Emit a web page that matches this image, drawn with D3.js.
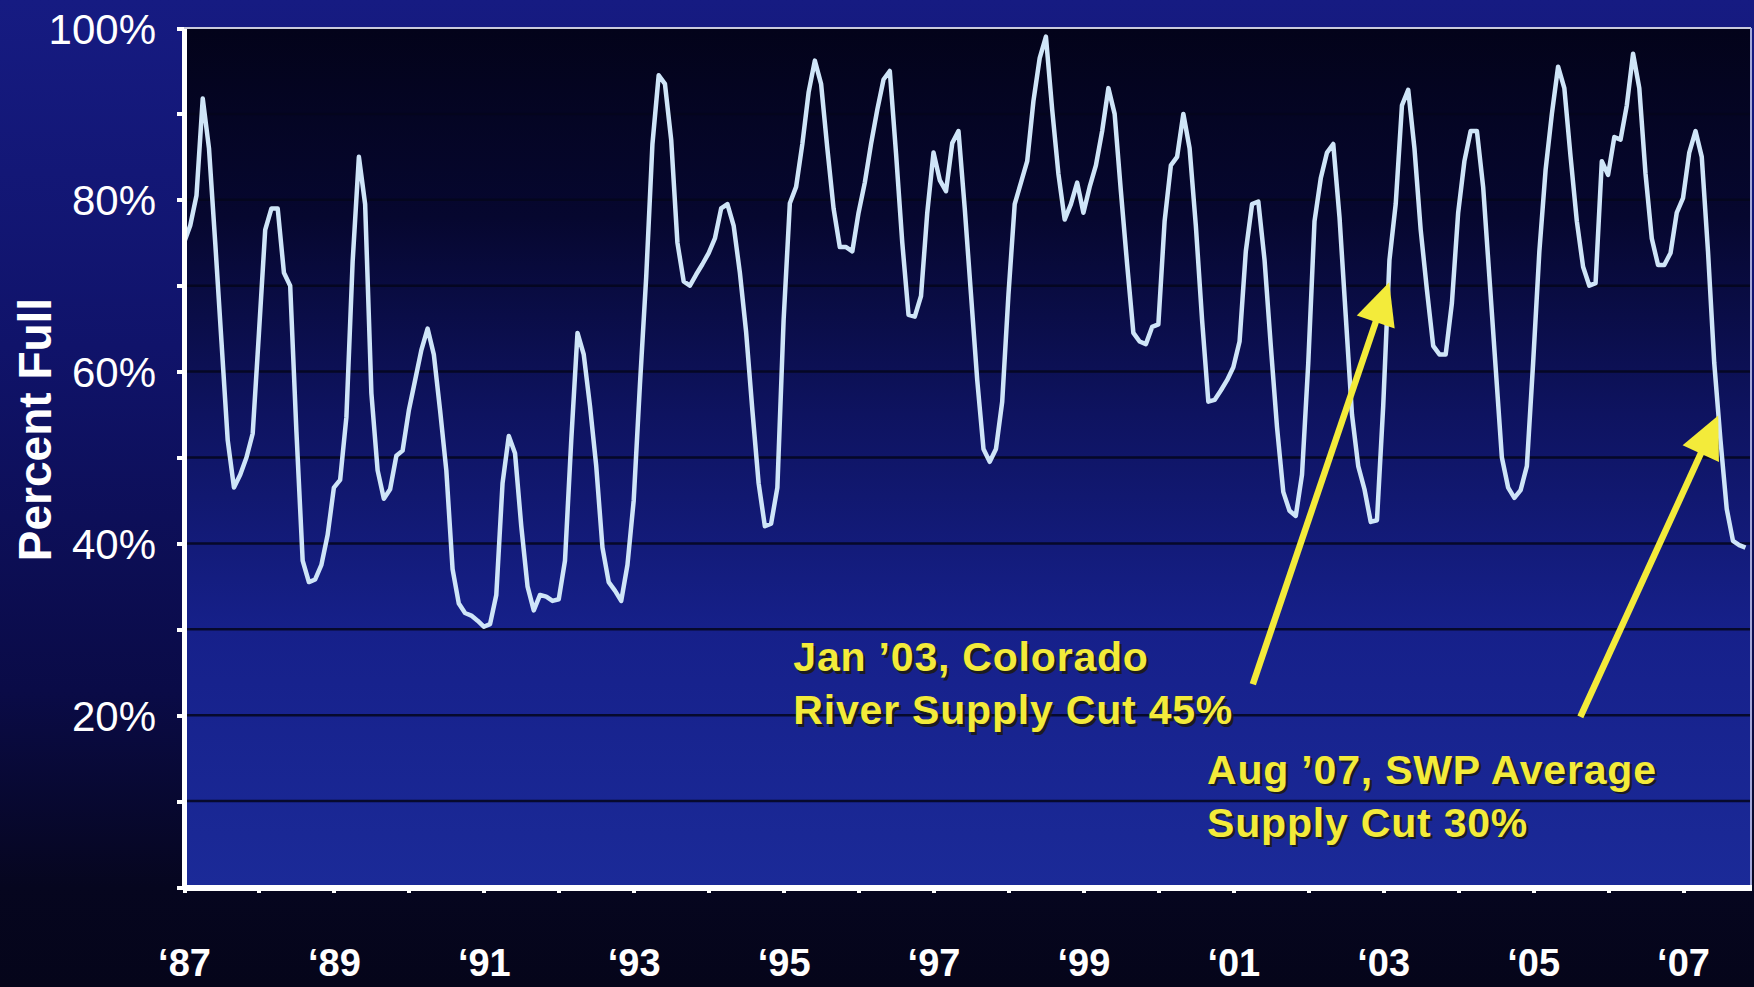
<!DOCTYPE html>
<head>
<meta charset="utf-8">
<script src="https://cdn.jsdelivr.net/npm/d3@7"></script>
<style>
  html, body { margin: 0; padding: 0; background: #06061f; }
  svg { display: block; }
  text { font-family: "Liberation Sans", Arial, sans-serif; }
</style>
</head>
<body>
<svg id="chart" width="1754" height="987"></svg>
<script>
// monthly percent full, Jan 1987 .. Nov 2007
var pctFull = [
  75, 77, 80.5, 91.8, 86, 75, 63.5, 52, 46.5, 48, 50, 52.8,          // 1987
  64.5, 76.5, 79, 79, 71.5, 70, 53, 38, 35.5, 35.8, 37.5, 41,        // 1988
  46.5, 47.4, 54.7, 72.8, 85, 79.5, 57.5, 48.5, 45.2, 46.3, 50.2, 50.8, // 1989
  55.5, 59, 62.5, 65, 62, 55.5, 48.5, 37, 33, 31.9, 31.6, 31,        // 1990
  30.3, 30.6, 34, 47, 52.5, 50.5, 42, 35, 32.2, 34, 33.8, 33.3,      // 1991
  33.5, 38, 52, 64.5, 62, 56, 49, 39.5, 35.5, 34.5, 33.3, 37.5,      // 1992
  45, 58.5, 71, 86.5, 94.5, 93.5, 87, 75, 70.5, 70, 71.3, 72.5,      // 1993
  73.8, 75.5, 79, 79.5, 77, 71.5, 64.6, 55.5, 47, 42, 42.3, 46.5,    // 1994
  66, 79.6, 81.5, 86.5, 92.5, 96.2, 93.5, 86, 79, 74.5, 74.5, 74,    // 1995
  78.5, 82, 86.5, 90.5, 94, 95, 85.4, 75, 66.6, 66.4, 68.8, 78.5,    // 1996
  85.5, 82.3, 81, 86.6, 88, 79, 69, 59, 51, 49.5, 51, 56.5,          // 1997
  69, 79.5, 82, 84.5, 91.5, 96.5, 99, 90.5, 83, 77.7, 79.5, 82,      // 1998
  78.5, 81.5, 84, 88, 93, 90, 81, 72.5, 64.5, 63.5, 63.2, 65.2,      // 1999
  65.5, 77.5, 84, 85, 90, 86, 77, 66, 56.5, 56.7, 57.8, 59,          // 2000
  60.5, 63.5, 74, 79.5, 79.8, 73, 63, 53.5, 46, 43.8, 43.2, 48,      // 2001
  61, 77.5, 82.5, 85.5, 86.5, 78, 66.5, 55, 49, 46.3, 42.5, 42.7,    // 2002
  56, 73, 79.5, 91, 92.8, 86, 76.5, 69.5, 63, 62, 62, 68,            // 2003
  78.5, 84.5, 88, 88, 81.5, 71, 60.5, 50, 46.5, 45.3, 46.2, 49,      // 2004
  61, 74, 83.5, 90, 95.5, 93, 85, 77.5, 72.2, 70, 70.3, 84.5,        // 2005
  82.9, 87.3, 87, 91, 97, 93, 83, 75.5, 72.4, 72.4, 73.8, 78.5,      // 2006
  80.2, 85.5, 88, 85, 74, 61, 52, 44, 40.3, 39.8, 39.5               // 2007
]
var startYear = 1987
var yearTicks = d3.range(1987, 2008)
var yTicks = d3.range(0, 101, 10)
var yLabels = [20, 40, 60, 80, 100]

// notes: text lines, where the text starts [year, pct], arrow tail and tip [year, pct]
var noteLines = [["Jan \u201903, Colorado", "River Supply Cut 45%"],
                 ["Aug \u201907, SWP Average", "Supply Cut 30%"]]
var noteText  = [[1995.13, 25.1], [2000.65, 12.0]]
var noteTail  = [[2001.26, 23.6], [2005.63, 19.8]]
var noteTip   = [[2003.08, 70.4], [2007.47, 54.9]]

var svg = d3.select('#chart')
  , W = 1754, H = 987
  , pLeft = 184, pRight = 1751, pTop = 28, pBottom = 887

var x = d3.scaleLinear().domain([1987, 2007.907]).range([pLeft, pRight])
var y = d3.scaleLinear().domain([0, 100]).range([pBottom, pTop])

var defs = svg.append('defs')
function grad(id, stops) {
  var g = defs.append('linearGradient').attr('id', id)
    .attr('x1', 0).attr('y1', 0).attr('x2', 0).attr('y2', 1)
  stops.forEach(function (s) {
    g.append('stop').attr('offset', s[0]).attr('stop-color', s[1])
  })
}
grad('bg', [[0, '#161b82'], [0.35, '#10136a'], [0.7, '#0a0b47'], [0.9, '#06061f'], [1, '#05051a']])
grad('plot', [[0, '#03031a'], [0.22, '#06072f'], [0.45, '#0e1360'], [0.7, '#16208a'], [1, '#1b2a98']])

svg.append('rect').attr('width', W).attr('height', H).attr('fill', 'url(#bg)')
svg.append('rect')
  .attr('x', pLeft).attr('y', pTop)
  .attr('width', pRight - pLeft).attr('height', pBottom - pTop)
  .attr('fill', 'url(#plot)')

// dark gridlines every 10%
svg.append('g').selectAll('line')
  .data(yTicks.filter(function (d) { return d > 0 && d < 100 }))
  .enter().append('line')
  .attr('x1', pLeft).attr('x2', pRight)
  .attr('y1', y).attr('y2', y)
  .attr('stroke', '#04061c').attr('stroke-width', 2.5).attr('opacity', 0.85)

// light frame on top and right
svg.append('line').attr('x1', pLeft).attr('x2', pRight).attr('y1', y(100)).attr('y2', y(100))
  .attr('stroke', '#c9cbdc').attr('stroke-width', 2)
svg.append('line').attr('x1', pRight).attr('x2', pRight).attr('y1', pTop).attr('y2', pBottom)
  .attr('stroke', '#a4a8d8').attr('stroke-width', 2)

// the series
var line = d3.line()
  .x(function (d, i) { return x(startYear + i / 12) })
  .y(function (d) { return y(d) })
svg.append('path').datum(pctFull)
  .attr('d', line)
  .attr('fill', 'none')
  .attr('stroke', '#cfe5f8')
  .attr('stroke-width', 4.5)
  .attr('stroke-linejoin', 'round')

// y axis
var yAxis = svg.append('g').attr('transform', 'translate(' + pLeft + ',0)')
  .call(d3.axisLeft(y).tickValues(yTicks).tickSize(7).tickSizeOuter(0)
    .tickFormat(function (d) { return yLabels.indexOf(d) >= 0 ? d + '%' : '' }))
yAxis.select('.domain').attr('stroke', '#fff').attr('stroke-width', 5)
yAxis.selectAll('.tick line').attr('stroke', '#fff').attr('stroke-width', 4)
yAxis.selectAll('.tick text')
  .attr('x', -28).attr('dy', '0.36em')
  .attr('fill', '#fff').style('font-size', '42px')

// x axis
var xAxis = svg.append('g').attr('transform', 'translate(0,' + pBottom + ')')
  .call(d3.axisBottom(x).tickValues(yearTicks).tickSize(6).tickSizeOuter(0)
    .tickFormat(function (d) { return d % 2 ? '\u2018' + String(d).slice(2) : '' }))
xAxis.select('.domain').attr('stroke', '#fff').attr('stroke-width', 6)
xAxis.selectAll('.tick line').attr('stroke', '#fff').attr('stroke-width', 4)
xAxis.selectAll('.tick text')
  .attr('y', 89).attr('dy', 0)
  .attr('fill', '#fff').style('font-size', '38px').style('font-weight', 'bold')

svg.selectAll('.domain, .tick line').attr('shape-rendering', 'crispEdges')

// axis title
svg.append('text')
  .attr('transform', 'translate(51,' + ((pTop + pBottom) / 2 - 28) + ') rotate(-90)')
  .attr('text-anchor', 'middle')
  .attr('fill', '#fff')
  .style('font-size', '46px').style('font-weight', 'bold')
  .text('Percent Full')

// notes with arrows
var yellow = '#f3eb3a'
noteLines.forEach(function (lines, k) {
  var tx = x(noteText[k][0]), ty = y(noteText[k][1])
  ;[['#1c1a10', 2.5], [yellow, 0]].forEach(function (p) {
    var t = svg.append('text')
      .attr('x', tx + p[1]).attr('y', ty + p[1])
      .attr('fill', p[0]).attr('opacity', p[1] ? 0.85 : 1)
      .style('font-size', '41px').style('font-weight', 'bold')
      .style('letter-spacing', '0.8px')
    lines.forEach(function (s, i) {
      t.append('tspan').attr('x', tx + p[1]).attr('dy', i ? 53 : 0).text(s)
    })
  })

  var x0 = x(noteTail[k][0]), y0 = y(noteTail[k][1])
    , x1 = x(noteTip[k][0]), y1 = y(noteTip[k][1])
    , len = Math.hypot(x1 - x0, y1 - y0)
    , ux = (x1 - x0) / len, uy = (y1 - y0) / len
    , hl = 42, hw = 20
    , bx = x1 - ux * hl, by = y1 - uy * hl
  svg.append('line')
    .attr('x1', x0).attr('y1', y0).attr('x2', bx + ux * 4).attr('y2', by + uy * 4)
    .attr('stroke', yellow).attr('stroke-width', 6.5)
  svg.append('path')
    .attr('d', 'M' + x1 + ',' + y1 +
      'L' + (bx - uy * hw) + ',' + (by + ux * hw) +
      'L' + (bx + uy * hw) + ',' + (by - ux * hw) + 'Z')
    .attr('fill', yellow)
})
</script>
</body>
